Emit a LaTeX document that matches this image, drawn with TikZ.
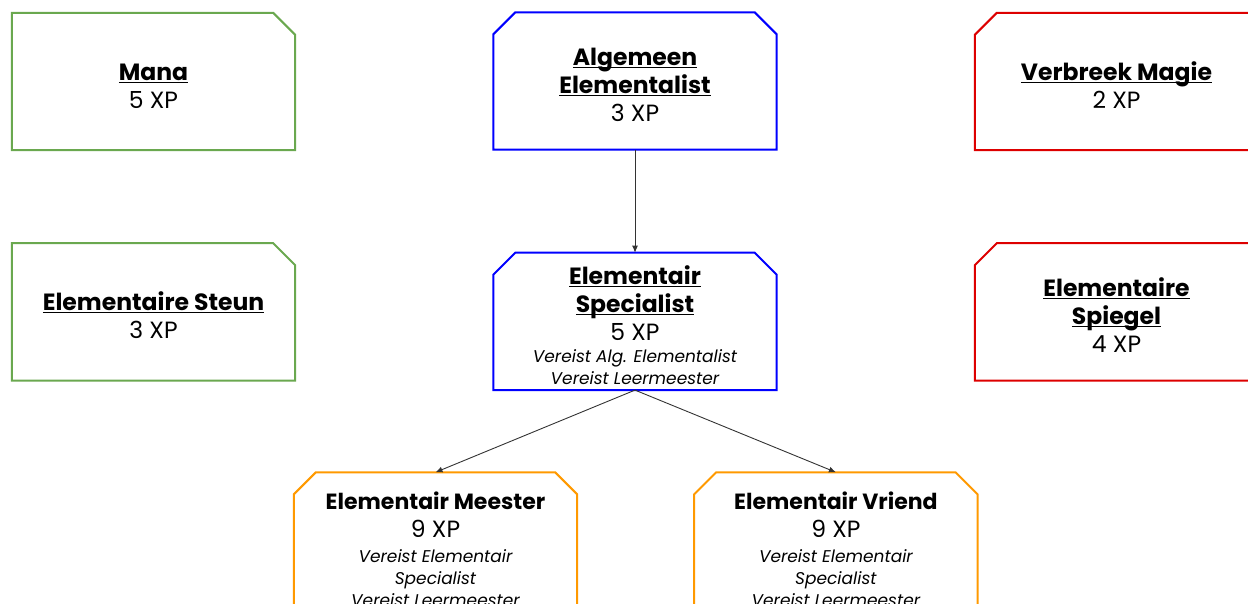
\documentclass[tikz,border=0pt]{standalone}
\usepackage{fontspec}
\setmainfont{Poppins}
\usepackage{xcolor}
\usetikzlibrary{positioning, arrows.meta}

\definecolor{groen}{HTML}{6AA84F}
\definecolor{blauw}{HTML}{0000FF}
\definecolor{rood}{HTML}{DD0000}
\definecolor{oranje}{HTML}{FF9900}
\definecolor{pijl}{HTML}{333333}

\newcommand{\titel}[1]{\underline{\smash{\textbf{#1}}}}
\newcommand{\vereist}{\fontsize{17}{22}\selectfont\itshape}
% outline of a box: node, colour, chamfer left, chamfer right
\newcommand{\rand}[4]{\draw[randlijn, #2] (#1.south west) -- ([yshift=-#3]#1.north west) -- ([xshift=#3]#1.north west) -- ([xshift=-#4]#1.north east) -- ([yshift=-#4]#1.north east) -- (#1.south east) -- cycle;}

\begin{document}
\begin{tikzpicture}[
    x=1pt, y=-1pt,
    >={Latex[width=6pt,length=7pt]},
    skill/.style={rectangle, minimum width=283pt, minimum height=137pt, inner sep=0pt},
    randlijn/.style={line width=2pt, line join=miter},
    skilltext/.style={align=center, yshift=-13pt, font=\fontsize{23.5}{28}\selectfont},
    link/.style={->, draw=pijl, line width=0.9pt},
    node distance=116pt % default distance between the rows
]
\clip (0,0) rectangle (1248,604);

% Nodes
\node[skill] (mana) at (153.5,81.5) {};
\node[skill] (steun) [below=93pt of mana] {};
\node[skill] (algemeen) at (635,81) {};
\node[skill] (specialist) [below=103pt of algemeen] {};
\node[skill] (verbreek) at (1116.5,81.5) {};
\node[skill] (spiegel) [below=93pt of verbreek] {};
\node[skill] (meester) at (435.5,541) {};
\node[skill] (vriend) [right=117pt of meester] {};

% Outlines
\rand{mana}{groen}{0pt}{22pt}
\rand{steun}{groen}{0pt}{22pt}
\rand{algemeen}{blauw}{22pt}{22pt}
\rand{specialist}{blauw}{22pt}{22pt}
\rand{verbreek}{rood}{22pt}{0pt}
\rand{spiegel}{rood}{22pt}{0pt}
\rand{meester}{oranje}{22pt}{22pt}
\rand{vriend}{oranje}{22pt}{22pt}

% Texts
\node[skilltext] (manatxt) at (mana.center) {\titel{Mana}\\5 XP};
\node[skilltext] (steuntxt) at (steun.center) {\titel{Elementaire Steun}\\3 XP};
\node[skilltext] (algemeentxt) at (algemeen.center) {\titel{Algemeen}\\\titel{Elementalist}\\3 XP};
\node[skilltext] (specialisttxt) at (specialist.center) {\titel{Elementair}\\\titel{Specialist}\\5 XP\\[-6pt]{\vereist Vereist Alg. Elementalist}\\[-6pt]{\vereist Vereist Leermeester}};
\node[skilltext] (verbreektxt) at (verbreek.center) {\titel{Verbreek Magie}\\2 XP};
\node[skilltext] (spiegeltxt) at (spiegel.center) {\titel{Elementaire}\\\titel{Spiegel}\\4 XP};
\node[skilltext, yshift=5pt] (meestertxt) at (meester.center) {{\fontsize{22}{28}\selectfont\bfseries Elementair Meester}\\9 XP\\[-3pt]{\vereist Vereist Elementair}\\[-6pt]{\vereist Specialist}\\[-6pt]{\vereist Vereist Leermeester}};
\node[skilltext, yshift=5pt] (vriendtxt) at (vriend.center) {{\fontsize{22}{28}\selectfont\bfseries Elementair Vriend}\\9 XP\\[-3pt]{\vereist Vereist Elementair}\\[-6pt]{\vereist Specialist}\\[-6pt]{\vereist Vereist Leermeester}};

% Arrows
\draw[link] (algemeen) -- (specialist);
\draw[link] (specialist.south) -- (meester.north);
\draw[link] (specialist.south) -- (vriend.north);

\end{tikzpicture}
\end{document}
